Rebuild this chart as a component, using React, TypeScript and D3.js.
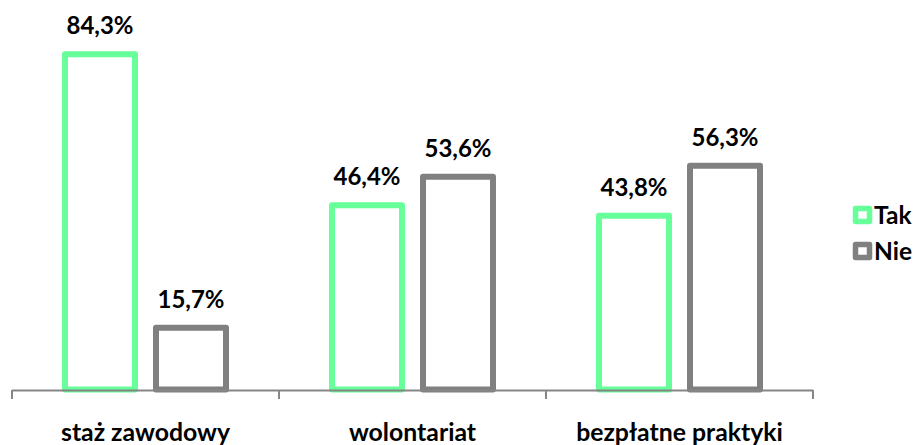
import React from "react";
import * as d3 from "d3";

const categories = ["staż zawodowy", "wolontariat", "bezpłatne praktyki"];
const seriesNames = ["Tak", "Nie"];
const takValues = [84.3, 46.4, 43.8];
const nieValues = [15.7, 53.6, 56.3];
const colors = ["#66FF99", "#808080"];

const W = 918;
const H = 445;
const FONT = "Lato, 'Open Sans', sans-serif";

export default function App() {
  const x0 = d3.scaleBand<string>().domain(categories).range([12, 813]).padding(0);
  const barW = 70;
  const gap = 21;
  const groupW = barW * 2 + gap;
  const y = d3.scaleLinear().domain([0, 100]).range([390.5, -8.5]);
  const series = [takValues, nieValues];
  const fmt = (v: number) => v.toFixed(1).replace(".", ",") + "%";
  const sw = 6;

  return (
    <svg width={W} height={H} style={{ position: "absolute", left: 0, top: 0, background: "#fff" }}>
      {series.map((vals, si) =>
        vals.map((v, ci) => {
          const cx = x0(categories[ci])! + (x0.bandwidth() - groupW) / 2 + si * (barW + gap);
          const top = y(v);
          return (
            <g key={`${si}-${ci}`}>
              <rect
                x={cx}
                y={top}
                width={barW}
                height={y(0) - top - 1}
                fill="#fff"
                stroke={colors[si]}
                strokeWidth={sw}
                strokeLinejoin="round"
              />
              <text
                x={cx + barW / 2}
                y={top - 20}
                textAnchor="middle"
                fontFamily={FONT}
                fontWeight="bold"
                fontSize={24}
                fill="#000"
              >
                {fmt(v)}
              </text>
            </g>
          );
        })
      )}
      {/* axis */}
      <line x1={12} x2={813} y1={390.5} y2={390.5} stroke="#868686" strokeWidth={2} />
      {[...categories.map((c) => x0(c)!), 813].map((t, i) => (
        <line key={i} x1={t} x2={t} y1={390} y2={399} stroke="#868686" strokeWidth={2} />
      ))}
      {categories.map((c) => (
        <text
          key={c}
          x={x0(c)! + x0.bandwidth() / 2}
          y={441}
          textAnchor="middle"
          fontFamily={FONT}
          fontWeight="bold"
          fontSize={24.8}
          fill="#000"
        >
          {c}
        </text>
      ))}
      {/* legend */}
      {seriesNames.map((s, i) => (
        <g key={s} transform={`translate(0, ${i * 36})`}>
          <rect x={855.5} y={208.5} width={14} height={13} fill="#fff" stroke={colors[i]} strokeWidth={5.5} strokeLinejoin="round" />
          <text x={874} y={224} fontFamily={FONT} fontWeight="bold" fontSize={24.5} fill="#000">
            {s}
          </text>
        </g>
      ))}
    </svg>
  );
}
